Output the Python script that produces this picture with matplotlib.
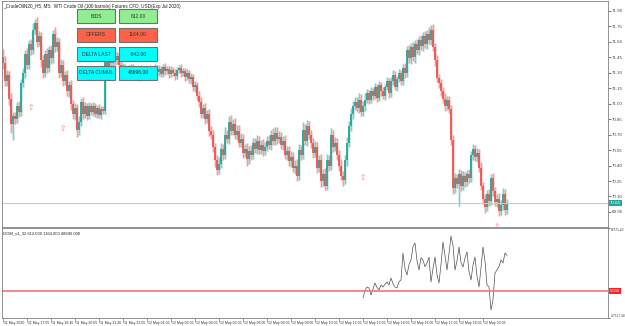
import numpy as np
import matplotlib
matplotlib.use("Agg")
import matplotlib.pyplot as plt
from matplotlib.patches import Rectangle
import matplotlib.transforms as mtransforms

plt.rcParams["font.family"] = ["Liberation Sans", "DejaVu Sans"]

# ---- data (M5 candles, closes in USD) ----
first_open = 71.45
closes = [
    71.40, 71.22, 71.28, 71.05,
    70.80, 70.88, 70.85,
    70.98, 70.92, 71.20,
    71.30, 71.48, 71.38, 71.58, 71.52, 71.72, 71.78,
    71.60, 71.66, 71.42, 71.30, 71.48, 71.35,
    71.52, 71.44, 71.68, 71.55, 71.60, 71.30,
    71.38, 71.22, 71.28, 71.12, 71.18, 71.00,
    70.90, 70.96, 70.75, 70.82,
    71.02, 70.90, 70.98, 70.88, 70.98,
    70.92, 70.98, 70.90, 70.96, 70.89, 70.95, 70.93,
    71.42,
    71.36, 71.44, 71.40, 71.48, 71.42, 71.46,
    71.38, 71.32, 71.36, 71.28, 71.34, 71.30, 71.36, 71.28, 71.32, 71.26, 71.34, 71.30, 71.33, 71.28,
    71.32, 71.28, 71.34, 71.30, 71.35, 71.31, 71.34, 71.29, 71.36, 71.32, 71.34, 71.29, 71.33,
    71.30, 71.27, 71.33, 71.35, 71.30, 71.32, 71.26, 71.30, 71.24, 71.26, 71.16, 71.18, 71.08,
    71.02, 70.90, 70.96,
    70.85, 70.90, 70.74, 70.70,
    70.58, 70.45, 70.36, 70.42,
    70.56, 70.50, 70.70, 70.66, 70.82, 70.74, 70.80,
    70.70, 70.74, 70.62, 70.66, 70.52, 70.56, 70.46,
    70.54, 70.50, 70.62, 70.56, 70.64, 70.55, 70.60, 70.54, 70.58,
    70.64, 70.60, 70.70, 70.64, 70.72, 70.66, 70.68,
    70.60, 70.64, 70.50, 70.54, 70.44, 70.48, 70.38, 70.40, 70.30,
    70.55, 70.50, 70.75, 70.64, 70.78, 70.70, 70.62,
    70.52, 70.58, 70.38, 70.45, 70.25, 70.32, 70.20,
    70.45, 70.40, 70.70, 70.58, 70.62, 70.50,
    70.40, 70.30, 70.26,
    70.45, 70.62, 70.78, 70.90, 70.98, 71.02,
    70.96, 71.04, 70.92, 70.98, 71.04,
    71.10, 71.04, 71.12, 71.08, 71.16, 71.06, 71.18, 71.12, 71.08, 71.16,
    71.22, 71.10, 71.22, 71.28, 71.16, 71.24, 71.30, 71.22,
    71.35, 71.30, 71.52, 71.44, 71.55,
    71.45, 71.58, 71.52, 71.62, 71.56, 71.66, 71.58, 71.68, 71.62, 71.72,
    71.55, 71.42, 71.25, 71.20, 71.12,
    71.05, 70.98, 71.04, 70.95,
    70.65, 70.18,
    70.28, 70.22, 70.32, 70.20, 70.30, 70.24,
    70.32, 70.28, 70.50, 70.56,
    70.48, 70.52, 70.38,
    70.20, 70.08, 70.00,
    70.12, 70.06, 70.28,
    70.15, 70.05, 70.08, 69.96,
    70.02, 70.12, 69.97, 70.04,
]
# wick lengths above / below the candle body, in cents
wick_up = [
    8, 6, 5, 4,
    5, 4, 4,
    4, 5, 4,
    5, 4, 6, 4, 5, 6, 4,
    6, 5, 4, 5, 4, 6,
    4, 5, 4, 6, 5, 4,
    5, 4, 4, 5, 4, 5,
    4, 5, 4, 6,
    4, 5, 4, 3, 4,
    3, 4, 3, 3, 4, 3, 3,
    3,
    4, 3, 4, 3, 3, 4,
    4, 3, 4, 3, 3, 4, 3, 3, 4, 3, 3, 4, 3, 3,
    3, 4, 3, 3, 4, 3, 4, 3, 3, 4, 3, 3, 4,
    3, 4, 3, 3, 4, 3, 3, 4, 3, 4, 3, 4, 3,
    4, 5, 4,
    5, 4, 5, 4,
    5, 4, 5, 6,
    6, 5, 7, 5, 6, 7, 5,
    6, 5, 5, 6, 5, 5, 6,
    5, 6, 5, 5, 6, 5, 5, 6, 5,
    5, 6, 5, 6, 5, 5, 6,
    5, 5, 6, 5, 5, 6, 5, 5, 6,
    6, 5, 7, 5, 6, 5, 5,
    5, 6, 5, 5, 6, 5, 6,
    6, 5, 6, 5, 6, 5,
    5, 6, 5,
    5, 6, 5, 6, 5, 5,
    5, 6, 5, 5, 6,
    4, 3, 4, 3, 4, 3, 4, 3, 4, 3,
    4, 3, 4, 5, 4, 3, 4, 3,
    4, 5, 4, 5, 4,
    5, 4, 5, 4, 5, 4, 5, 4, 6, 4,
    5, 4, 5, 4, 4,
    4, 5, 4, 4,
    4, 5,
    5, 4, 5, 4, 5, 4,
    4, 5, 4, 5,
    4, 5, 4,
    5, 4, 4,
    4, 5, 4,
    5, 4, 4, 5,
    5, 6, 5, 4,
]
wick_dn = [
    6, 5, 5, 6,
    8, 15, 5,
    4, 5, 4,
    4, 5, 4, 4, 5, 4, 4,
    5, 4, 6, 5, 4, 5,
    4, 5, 4, 5, 4, 5,
    4, 5, 4, 4, 5, 6,
    5, 6, 7, 5,
    4, 5, 4, 4, 3,
    3, 4, 3, 4, 3, 4, 3,
    3,
    3, 4, 3, 3, 4, 3,
    3, 4, 3, 3, 4, 3, 3, 4, 3, 3, 4, 3, 3, 4,
    4, 3, 3, 4, 3, 3, 4, 3, 3, 4, 3, 4, 3,
    3, 4, 3, 3, 4, 3, 4, 3, 4, 5, 4, 5, 4,
    5, 4, 4,
    5, 4, 5, 4,
    5, 6, 5, 4,
    4, 5, 4, 4, 5, 4, 4,
    4, 5, 4, 4, 5, 4, 6,
    4, 5, 4, 4, 5, 4, 4, 5, 4,
    4, 4, 5, 4, 4, 5, 4,
    4, 5, 4, 5, 4, 5, 4, 6, 5,
    4, 5, 4, 4, 5, 4, 5,
    5, 4, 5, 4, 6, 5, 4,
    4, 5, 4, 5, 4, 5,
    5, 4, 6,
    4, 5, 4, 4, 5, 4,
    4, 5, 4, 4, 5,
    3, 4, 3, 4, 3, 4, 3, 4, 3, 4,
    3, 4, 3, 4, 3, 4, 3, 4,
    4, 5, 4, 4, 5,
    4, 5, 4, 5, 4, 5, 4, 5, 4, 5,
    4, 5, 4, 5, 4,
    4, 5, 4, 4,
    5, 6,
    5, 4, 21, 5, 4, 5,
    4, 5, 4, 5,
    4, 5, 4,
    4, 5, 6,
    4, 5, 4,
    5, 4, 5, 5,
    4, 5, 5, 4,
]

# cumulative delta indicator, one value per bar starting at delta_start
delta_start = 180
delta_values = [
    -9985, 1027, 5157, 3780, -5855, 2400, 10663, 4500, 1027, 7910,
    5157, 9200, 12040, 8100, 17546, 9800, 5157, 3780, 12500, 14793,
    51958, 30200, 21676, 35800, 42322, 60500, 65723, 41200, 28560, 45600,
    42322, 33100, 38193, 46200, 12040, 30500, 46452, 22100, 10663, 36400,
    67100, 48200, 28560, 51300, 75359, 62400, 28560, 41200, 60217, 38700,
    32688, 45100, 53335, 26800, 14793, 35200, 46452, 20100, 5157, 31600,
    60217, 40800, 7910, 5157, -26502, -12400, 24430, 28560, 33100, 42322,
    38193, 51958, 48696,
]

indicator_name = "DOM_v1_32 612.000 1164.000 48696.000"
box_labels = ["BIDS", "OFFERS", "DELTA LAST", "DELTA CUMUL"]
box_values = ["612.00", "1164.00", "-542.00", "48696.00"]
box_colors = ["#90ee90", "#ff6347", "#00ffff", "#00ffff"]

arrow_bars = [14, 30, 180, 247]
arrow_prices = [70.96, 70.76, 70.28, 69.81]

time_labels = ["11 May 2020", "11 May 17:05", "11 May 18:45", "11 May 20:05", "11 May 21:45",
               "11 May 23:05", "12 May 01:05", "12 May 02:05", "12 May 04:05", "12 May 05:05",
               "12 May 06:05", "12 May 08:05", "12 May 09:05", "12 May 10:05", "12 May 12:05",
               "12 May 13:05", "12 May 14:05", "12 May 16:05", "12 May 17:05", "12 May 18:05",
               "12 May 20:05"]
price_ticks = [71.90, 71.75, 71.60, 71.45, 71.30, 71.15, 71.00, 70.85,
               70.70, 70.55, 70.40, 70.25, 70.10, 69.95]
last_price = 70.04
dom_top, dom_bottom = 86371.40, -37517.40

# ---- figure ----
W, H = 625, 326
fig = plt.figure(figsize=(W / 100, H / 100), dpi=100)
fig.patch.set_facecolor("white")

def axes_px(x0, y0, x1, y1):
    return fig.add_axes([x0 / W, 1 - y1 / H, (x1 - x0) / W, (y1 - y0) / H])

ax = axes_px(2, 1, 608, 227)
ax2 = axes_px(2, 228, 608, 318)

closes = np.array(closes)
opens = np.concatenate([[first_open], closes[:-1]])
idx = np.arange(len(closes))
top = np.maximum(opens, closes)
bot = np.minimum(opens, closes)
highs = top + np.array(wick_up) / 100
lows = bot - np.array(wick_dn) / 100
bull = closes >= opens
bull_c, bear_c = "#26a69a", "#ef5350"
cols = np.where(bull, bull_c, bear_c)

ax.vlines(idx, lows, highs, colors=cols, lw=1.8, alpha=0.28)
ax.vlines(idx, lows, highs, colors=cols, lw=0.5, alpha=0.55)
ax.bar(idx, np.maximum(top - bot, 0.006), bottom=bot, width=0.7, color=cols, alpha=0.9, lw=0)

ax.axhline(last_price, color="#a8d8d2", lw=0.8)
for b, p in zip(arrow_bars, arrow_prices):
    ax.text(b, p, "\u21e7", color="#f08080", fontsize=5.5, ha="center", va="center",
            family="DejaVu Sans")

ax.set_xlim(-0.5, 302.5)
ax.set_ylim(69.804, 71.997)

for a in (ax, ax2):
    a.set_facecolor("white")
    for s in a.spines.values():
        s.set_color("#808080")
        s.set_linewidth(0.6)
    a.yaxis.tick_right()
    a.tick_params(axis="y", labelsize=3.2, colors="#404040", length=2, width=0.5, pad=1)
    a.tick_params(axis="x", length=0)
    a.set_xticks([])

ax.set_yticks(price_ticks)
ax.set_yticklabels([f"{t:.2f}" for t in price_ticks])

tr = mtransforms.blended_transform_factory(ax.transAxes, ax.transData)
ax.text(1.003, last_price, f"{last_price:.2f}", transform=tr, fontsize=3.2, color="white",
        va="center", ha="left",
        bbox=dict(boxstyle="square,pad=0.25", fc="#26a69a", ec="none"))

ax.text(0.002, 0.988, "_CrudeOilN20_H5, M5:  WTI Crude Oil (100 barrels) Futures CFD, USD(Exp Jul 2020)",
        transform=ax.transAxes, fontsize=3.3, color="#202020", va="top", ha="left")

# info boxes
for k, (lab, val, c) in enumerate(zip(box_labels, box_values, box_colors)):
    y0 = 9 + 19 * k
    for x0, txt in ((77, lab), (119, val)):
        r = Rectangle((x0 / W, 1 - (y0 + 14) / H), 38 / W, 14 / H, transform=fig.transFigure,
                      fc=c, ec="#707070", lw=0.8, zorder=5)
        fig.patches.append(r)
        fig.text((x0 + 19) / W, 1 - (y0 + 7) / H, txt, fontsize=3.6, color="#303030",
                 ha="center", va="center", zorder=6)

# indicator sub-window
ax2.plot(np.arange(delta_start, delta_start + len(delta_values)), delta_values,
         color="#505050", lw=0.5)
ax2.axhline(0, color="#f08080", lw=1.3)
ax2.set_xlim(-0.5, 302.5)
ax2.set_ylim(dom_bottom, dom_top)
ax2.set_yticks([dom_top, dom_bottom])
ax2.set_yticklabels([f"{dom_top:.2f}", f"{dom_bottom:.2f}"])
ax2.tick_params(axis="y", labelsize=2.3, length=1.5, pad=0.5)
ax2.get_yticklabels()[0].set_verticalalignment("top")
ax2.get_yticklabels()[1].set_verticalalignment("bottom")
tr2 = mtransforms.blended_transform_factory(ax2.transAxes, ax2.transData)
ax2.text(1.003, 0, "0.000", transform=tr2, fontsize=3.0, color="white", va="center", ha="left",
         bbox=dict(boxstyle="square,pad=0.25", fc="#ff2020", ec="none"))
ax2.text(0.002, 0.96, indicator_name, transform=ax2.transAxes, fontsize=3.0,
         color="#202020", va="top", ha="left")

# time axis
xt = mtransforms.blended_transform_factory(ax2.transData, ax2.transAxes)
for k, lab in enumerate(time_labels):
    b = 12 * k
    ax2.plot([b, b], [0, -0.04], transform=xt, color="#808080", lw=0.5, clip_on=False)
    ax2.text(b + 0.6, -0.035, lab, transform=xt, fontsize=2.5, color="#303030",
             va="top", ha="left", clip_on=False)

fig.savefig("out.png", dpi=100)
